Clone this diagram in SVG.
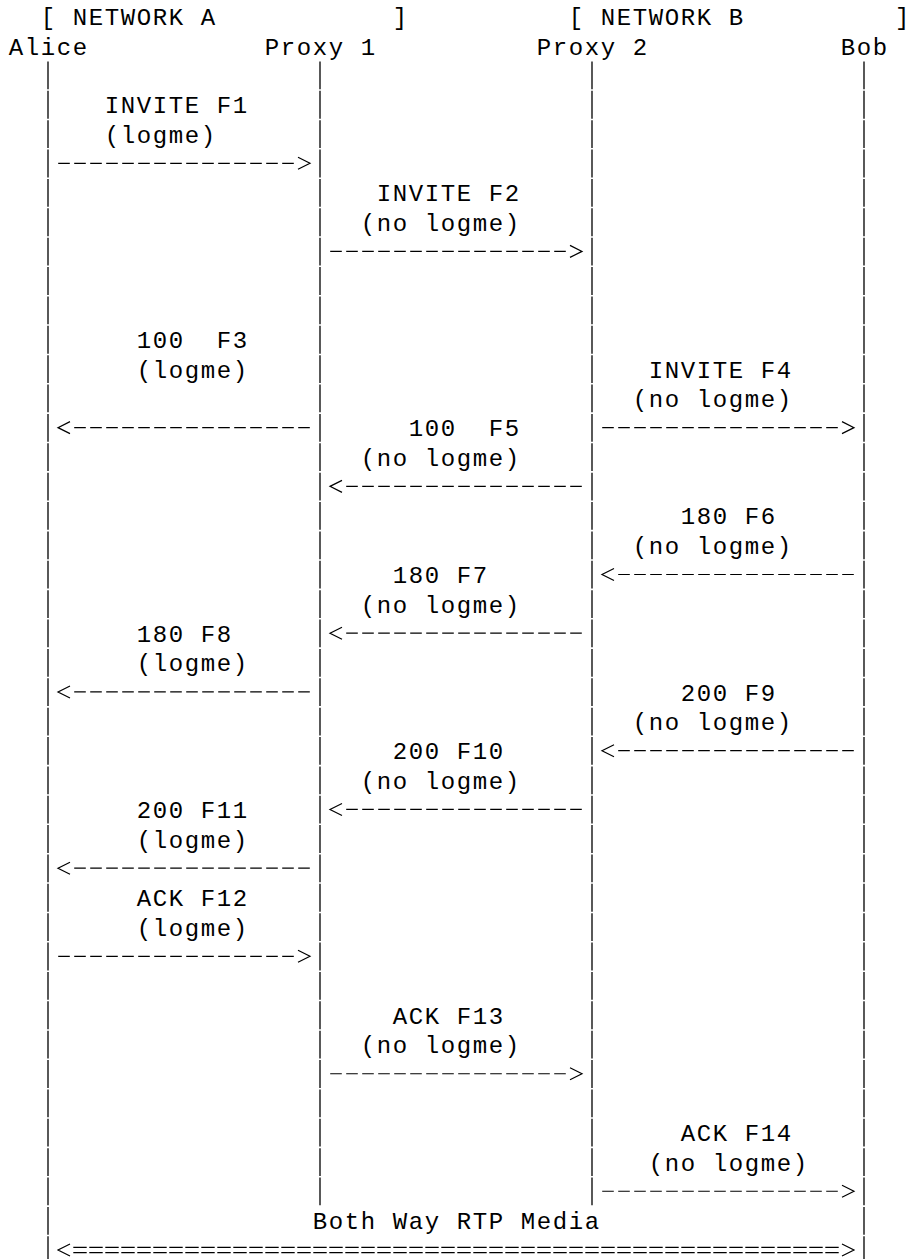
<svg xmlns="http://www.w3.org/2000/svg" width="909" height="1259" viewBox="0 0 909 1259">
<defs>
<style>
text{font-family:"Liberation Mono","Courier New",monospace;font-size:24px;letter-spacing:1.6px;fill:#000}
.life{fill:none;stroke:#000;stroke-width:1.3;stroke-dasharray:27.8 1.57}
.msg{fill:none;stroke:#000;stroke-width:1.2;stroke-dasharray:11.6 4.4;marker-end:url(#chev)}
.eq{fill:none;stroke:#000;stroke-width:1.2;stroke-dasharray:13.4 2.6}
.head{fill:none;stroke:#000;stroke-width:1.2}
</style>
<marker id="chev" markerUnits="userSpaceOnUse" viewBox="0 -8 20 16" refX="0" refY="0" markerWidth="20" markerHeight="16" orient="auto" overflow="visible">
<path d="M4.2,-6 L16.2,0 L4.2,6" fill="none" stroke="#000" stroke-width="1.2"/>
</marker>
</defs>
<rect width="909" height="1259" fill="#fff"/>

<g id="network-a"><text x="40.8" y="25.2">[ NETWORK A</text><text x="392.8" y="25.2">]</text></g>
<g id="network-b"><text x="568.8" y="25.2">[ NETWORK B</text><text x="895" y="25.2">]</text></g>

<g id="alice"><text x="8.8" y="54.57">Alice</text><path class="life" d="M48 61.5V1259"/></g>
<g id="proxy1"><text x="264.8" y="54.57">Proxy 1</text><path class="life" d="M320 61.5V1205.4"/></g>
<g id="proxy2"><text x="536.8" y="54.57">Proxy 2</text><path class="life" d="M592 61.5V1205.4"/></g>
<g id="bob"><text x="840.8" y="54.57">Bob</text><path class="life" d="M864 61.5V1259"/></g>

<g id="connectors">
<g id="f1"><text x="104.8" y="113.31">INVITE F1</text><text x="104.8" y="142.68">(logme)</text><path class="msg" d="M58.2 163.3H293.8"/></g>
<g id="f2"><text x="376.8" y="201.42">INVITE F2</text><text x="360.8" y="230.79">(no logme)</text><path class="msg" d="M330.2 251.41H565.8"/></g>
<g id="f3"><text x="136.8" y="348.27" xml:space="preserve">100  F3</text><text x="136.8" y="377.64">(logme)</text><path class="msg" d="M309.8 427.63H74.2"/></g>
<g id="f4"><text x="648.8" y="377.64">INVITE F4</text><text x="632.8" y="407.01">(no logme)</text><path class="msg" d="M602.2 427.63H837.8"/></g>
<g id="f5"><text x="408.8" y="436.38" xml:space="preserve">100  F5</text><text x="360.8" y="465.75">(no logme)</text><path class="msg" d="M581.8 486.37H346.2"/></g>
<g id="f6"><text x="680.8" y="524.49">180 F6</text><text x="632.8" y="553.86">(no logme)</text><path class="msg" d="M853.8 574.48H618.2"/></g>
<g id="f7"><text x="392.8" y="583.23">180 F7</text><text x="360.8" y="612.6">(no logme)</text><path class="msg" d="M581.8 633.22H346.2"/></g>
<g id="f8"><text x="136.8" y="641.97">180 F8</text><text x="136.8" y="671.34">(logme)</text><path class="msg" d="M309.8 691.96H74.2"/></g>
<g id="f9"><text x="680.8" y="700.71">200 F9</text><text x="632.8" y="730.08">(no logme)</text><path class="msg" d="M853.8 750.7H618.2"/></g>
<g id="f10"><text x="392.8" y="759.45">200 F10</text><text x="360.8" y="788.82">(no logme)</text><path class="msg" d="M581.8 809.44H346.2"/></g>
<g id="f11"><text x="136.8" y="818.19">200 F11</text><text x="136.8" y="847.56">(logme)</text><path class="msg" d="M309.8 868.18H74.2"/></g>
<g id="f12"><text x="136.8" y="906.3">ACK F12</text><text x="136.8" y="935.67">(logme)</text><path class="msg" d="M58.2 956.29H293.8"/></g>
<g id="f13"><text x="392.8" y="1023.78">ACK F13</text><text x="360.8" y="1053.15">(no logme)</text><path class="msg" d="M330.2 1073.77H565.8"/></g>
<g id="f14"><text x="680.8" y="1141.26">ACK F14</text><text x="648.8" y="1170.63">(no logme)</text><path class="msg" d="M602.2 1191.25H837.8"/></g>
<g id="rtp"><text x="312.8" y="1229.37">Both Way RTP Media</text>
<path class="eq" d="M73.3 1247.3H838.7M73.3 1252.7H838.7"/>
<path class="head" d="M70 1244L58 1250L70 1256M842 1244L854 1250L842 1256"/></g>
</g>
</svg>
